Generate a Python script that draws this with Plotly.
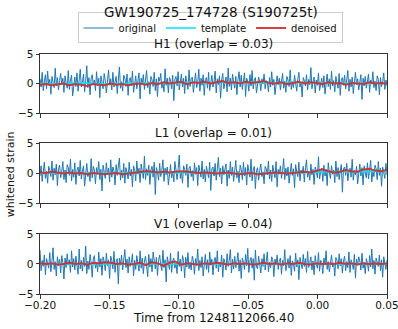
import numpy as np
import plotly.graph_objects as go
from plotly.subplots import make_subplots

# whitened strain (320 samples over the window)
h1_original = [
    0.8, -0.6, 1.9, -1.2, 0.4, 1.5, -0.9, 2.1, -0.3, 0.7, -1.8, 1.2, 0.2, -0.7, 2.6, -0.4, 1.0, -1.1, 0.5, 1.7,
    -0.2, 0.9, -1.5, 1.3, 0.1, -0.8, 2.2, -1.0, 0.6, 1.4, -2.1, 0.3, 1.1, -0.5, 1.8, -1.3, 0.7, 2.4, -0.6, 0.2,
    1.6, -1.4, 0.4, 3.0, -0.7, 1.0, -1.9, 0.8, 1.5, -0.2, 0.6, -1.2, 2.0, -0.4, 0.9, -2.4, 1.3, 0.0, -0.9, 1.7,
    0.5, -1.6, 1.1, 2.3, -0.3, 0.8, -1.1, 1.9, -0.6, 0.4, 1.2, -1.7, 0.7, 2.8, -0.8, 0.3, -1.3, 1.4, 0.9, -0.5,
    1.6, -2.0, 0.6, 1.0, -0.4, 2.1, -1.5, 0.2, 1.3, -0.9, 0.5, 1.8, -2.6, 0.9, -0.1, 1.5, -1.0, 0.4, 2.2, -0.7,
    0.3, -1.8, 1.2, 0.6, -0.5, 1.9, -1.2, 0.8, -2.2, 1.1, 0.4, 1.7, -0.8, 0.2, -1.4, 2.5, -0.3, 0.9, -1.6, 1.0,
    0.6, -0.9, 1.4, -2.9, 0.7, 1.2, -0.4, 2.0, -1.1, 0.3, 1.6, -0.6, 0.9, -1.7, 1.3, 0.1, -1.0, 2.3, -0.5, 0.8,
    1.1, -1.5, 0.5, 1.8, -0.7, 0.2, 2.4, -1.3, 0.9, -0.3, 1.5, -2.0, 0.7, 1.0, -0.8, 1.9, -1.2, 0.4, 1.4, -0.6,
    0.3, 2.1, -1.6, 0.8, -0.2, 1.3, -2.5, 0.6, 1.7, -0.9, 0.4, 1.1, -1.4, 2.6, -0.5, 0.9, -1.1, 1.6, 0.2, -0.8,
    1.2, -1.9, 0.7, 2.0, -0.6, 1.4, -1.0, 0.5, 1.8, -2.2, 0.9, 0.3, -1.3, 1.5, -0.4, 2.2, -0.9, 0.6, 1.0, -1.6,
    -0.4, 1.1, 0.3, -1.2, 0.8, -0.1, 1.6, -0.9, 0.5, 0.2, -1.4, 1.0, -0.6, 2.0, -0.3, 0.7, -1.9, 0.4, 1.3, -0.2,
    0.9, -1.1, 0.1, 1.7, -0.8, 0.4, -1.5, 1.2, 0.6, -0.5, 2.3, -1.0, 0.3, -0.7, 1.4, 0.0, -1.3, 0.8, 1.9, -0.6,
    0.2, -2.3, 1.0, 0.5, -0.4, 1.5, -1.1, 0.7, -0.2, 2.7, -0.9, 0.3, 1.1, -1.6, 0.6, -0.3, 1.8, -1.2, 0.4, 0.9,
    -0.7, 1.3, -1.8, 0.2, 1.6, -0.5, 0.8, -1.0, 2.1, -0.4, 0.5, -1.4, 1.2, 0.1, -0.8, 1.7, -2.0, 0.6, 1.0, -0.3,
    1.4, -0.9, 0.4, 2.2, -1.3, 0.7, -0.6, 1.1, -1.7, 0.3, 1.9, -0.2, 0.8, -1.1, 0.5, 1.5, -2.7, 0.9, -0.4, 1.2,
    -0.8, 0.2, 1.6, -1.5, 0.6, -0.1, 2.0, -0.7, 0.4, -1.2, 1.3, 0.7, -1.9, 1.0, -0.5, 0.3, 1.8, -1.0, 0.6, -0.4,
]
l1_original = [
    -0.5, 1.2, -1.4, 0.6, 1.8, -0.9, 0.3, -1.7, 1.1, 0.4, -0.6, 2.0, -1.2, 0.8, -0.3, 1.5, -2.1, 0.7, 1.3, -0.8,
    0.2, 1.9, -1.1, 0.5, -1.6, 1.4, 0.9, -0.4, 2.3, -1.3, 0.6, -0.7, 1.7, -1.9, 0.4, 1.0, -0.5, 2.1, -1.0, 0.3,
    1.2, -2.2, 0.7, 1.6, -0.6, 0.2, -1.4, 2.4, -0.8, 1.1, 0.5, -1.8, 0.9, -0.2, 1.9, -1.1, 0.6, -3.0, 1.3, 0.4,
    -0.9, 1.7, -0.3, 0.8, -1.5, 2.2, -0.7, 1.0, 0.3, -2.0, 1.4, -0.4, 0.7, 2.5, -1.2, 0.5, -0.8, 1.6, -1.7, 0.9,
    0.1, -1.0, 1.8, -0.5, 0.6, -2.3, 1.2, 0.4, -1.3, 2.0, -0.2, 0.8, -1.6, 1.5, 0.3, -0.9, 2.8, -1.1, 0.7, -0.4,
    1.3, -1.9, 0.5, 1.1, -0.7, 1.8, -3.6, 0.9, 0.2, -1.2, 1.6, -0.6, 0.4, 2.2, -1.4, 0.8, -0.3, 1.0, -2.0, 0.6,
    1.4, -0.8, 0.3, -1.5, 1.9, 0.5, -1.1, 0.7, 3.0, -0.9, 0.2, -1.7, 1.2, 0.6, -0.4, 1.5, -2.4, 0.8, 1.1, -0.6,
    0.4, -1.3, 1.7, -0.2, 0.9, -2.1, 1.3, 0.3, -0.7, 2.0, -1.0, 0.6, -1.5, 1.1, 0.2, -0.8, 1.8, -2.9, 0.7, 1.0,
    -0.5, 1.6, -1.2, 0.4, 2.6, -0.6, 0.8, -1.8, 1.2, -0.3, 0.9, 1.5, -2.2, 0.5, -0.9, 1.9, -0.4, 1.0, -1.4, 0.7,
    2.1, -0.8, 0.3, -1.6, 1.3, 0.6, -1.1, 1.8, -0.5, 0.9, -2.0, 1.4, 0.2, -0.7, 2.3, -1.3, 0.5, 1.1, -2.6, 0.4,
    0.9, -1.2, 0.4, 1.5, -0.6, 0.2, -1.8, 1.1, 0.7, -0.3, 2.0, -1.0, 0.5, -1.4, 1.3, 0.1, -0.8, 1.9, -2.3, 0.6,
    -0.2, 1.2, -0.9, 0.4, 2.4, -1.1, 0.8, -0.5, 1.0, -1.7, 0.3, 1.6, -0.4, 0.7, -2.5, 1.4, 0.2, -0.6, 1.8, -1.3,
    0.5, -0.1, 1.1, -1.5, 0.9, 2.2, -0.7, 0.3, -1.2, 1.5, -0.3, 0.6, -1.9, 1.0, 0.4, -0.8, 2.7, -1.0, 0.2, 0.8,
    -1.4, 1.3, -0.5, 0.6, -2.1, 1.7, 0.1, -0.9, 1.2, -0.2, 0.5, -1.6, 2.0, -0.6, 0.9, -1.1, 0.3, 1.4, -3.2, 0.7,
    1.0, -0.4, 1.6, -1.3, 0.2, 0.8, -0.7, 2.3, -1.2, 0.4, -0.3, 1.1, -1.8, 0.6, 1.5, -0.5, 0.9, -2.0, 1.2, 0.0,
    -0.8, 1.7, -1.0, 0.5, 2.1, -1.5, 0.3, -0.6, 1.3, 0.7, -1.1, 1.9, -0.4, 0.8, -2.2, 1.0, 0.2, -0.9, 1.6, -0.3,
]
v1_original = [
    2.3, -1.1, 0.6, -0.4, 1.5, -1.8, 0.9, 0.2, -0.7, 1.9, -1.3, 0.5, 2.7, -0.9, 0.4, -2.0, 1.2, -0.3, 0.8, -1.5,
    1.4, 0.3, -2.5, 1.0, -0.6, 1.7, -0.2, 0.7, -1.4, 2.2, -0.5, 0.9, -1.0, 1.3, 0.1, -1.7, 2.5, -0.8, 0.6, -1.2,
    1.1, -0.4, 3.0, -1.6, 0.5, -0.9, 1.6, 0.2, -2.2, 0.8, 1.4, -0.7, 0.3, -1.3, 2.0, -0.5, 0.9, -1.9, 1.2, 0.4,
    -1.1, 1.8, -0.3, 0.7, -2.4, 1.3, 0.6, -0.8, 2.1, -1.4, 0.4, 0.9, -3.3, 1.0, -0.2, 1.5, -1.0, 0.5, 2.4, -0.6,
    0.8, -1.5, 1.2, -0.4, 0.3, 1.7, -2.0, 0.6, -0.9, 1.4, 0.2, -1.2, 2.2, -0.7, 1.0, -1.6, 0.5, 1.3, -0.3, -2.1,
    1.6, -0.5, 0.9, -1.3, 2.0, 0.4, -0.8, 1.1, -1.9, 0.6, 1.5, -0.2, -1.1, 2.3, -0.6, 0.7, -3.0, 1.2, 0.3, -0.9,
    1.8, -1.4, 0.5, 1.0, -0.7, 0.2, -1.6, 2.1, -0.4, 0.8, -1.2, 1.4, 0.6, -2.3, 1.1, -0.5, 1.9, -0.8, 0.3, -1.0,
    1.3, 0.5, -1.7, 0.9, -0.3, 2.5, -1.1, 0.6, -0.6, 1.2, -2.0, 0.4, 1.6, -0.9, 0.7, -1.4, 2.0, -0.2, 0.8, -1.8,
    0.5, 1.1, -0.7, 2.2, -1.3, 0.3, -0.5, 1.5, -2.2, 0.9, 0.2, -1.0, 1.7, -0.4, 0.6, 2.4, -1.5, 0.8, -0.8, 1.3,
    -0.6, 0.4, 1.9, -1.2, 0.7, -2.4, 1.0, 0.3, -0.9, 1.6, -0.3, 2.6, -1.4, 0.5, 1.1, -0.7, 0.9, -2.7, 2.3, -0.5,
    -0.8, 1.3, 0.2, -1.5, 0.9, -0.4, 1.7, -1.0, 0.5, 2.0, -1.3, 0.3, -0.6, 1.2, 0.7, -2.1, 0.8, -0.2, 1.5, -0.9,
    0.4, 1.0, -1.7, 0.6, -0.3, 2.4, -1.1, 0.2, 0.9, -0.7, 1.4, -1.9, 0.5, 0.1, -1.2, 1.8, -0.5, 0.7, -2.6, 1.1,
    0.3, -0.8, 1.6, -0.4, 0.9, -1.4, 2.1, -0.6, 0.2, 1.2, -1.0, 0.5, -1.8, 1.4, 0.0, -0.7, 1.9, -1.2, 0.6, 0.3,
    -1.6, 1.0, -0.2, 2.2, -0.9, 0.4, -1.3, 0.8, 1.5, -0.5, 0.2, -2.0, 1.1, 0.6, -0.8, 1.7, -0.3, 0.9, -1.5, 0.5,
    1.3, -1.1, 0.4, -0.6, 2.0, -1.4, 0.7, 0.1, -0.9, 1.6, -2.3, 0.8, -0.2, 1.2, 0.5, -1.0, 1.8, -0.7, 0.3, -1.6,
    0.9, 0.2, -1.2, 1.4, -0.5, 2.5, -0.8, 0.6, -1.7, 1.0, 0.3, -0.4, 1.5, -1.1, 0.7, -2.2, 1.2, 0.4, -0.9, 0.6,
]

# template (26 samples) and denoised output (60 samples)
h1_template = [0.0, -0.1, 0.0, 0.1, 0.0, -0.1, 0.0, 0.1, 0.1, 0.0, 0.1, 0.2, 0.1,
               0.2, 0.1, 0.2, 0.1, 0.2, 0.2, 0.1, 0.1, 0.0, 0.1, 0.0, 0.0, 0.0]
l1_template = [0.0, 0.0, -0.1, 0.0, -0.1, -0.1, 0.0, 0.1, 0.1, 0.1, 0.0, 0.1, 0.0,
               -0.1, -0.1, 0.0, -0.1, 0.0, 0.0, 0.1, 0.1, 0.2, 0.3, 0.2, 0.3, 0.2]
v1_template = [0.0, 0.0, 0.1, 0.0, 0.0, 0.1, 0.0, 0.1, 0.0, 0.0, 0.1, 0.0, 0.0,
               0.0, 0.1, 0.0, 0.0, 0.0, 0.1, 0.0, 0.0, 0.1, 0.0, 0.0, 0.1, 0.0]

h1_denoised = [
    -0.2, -0.1, -0.3, -0.2, 0.0, -0.3, -0.1, -0.2, -0.4, -0.1, -0.2, -0.3, 0.0, -0.2, -0.1, -0.3, -0.1, 0.0, -0.2, 0.1,
    -0.1, 0.2, 0.0, 0.1, 0.3, -0.1, 0.2, 0.1, 0.3, 0.0, 0.2, 0.4, 0.1, 0.2, 0.0, 0.3, 0.1, 0.2, 0.4, 0.1,
    0.0, 0.2, -0.1, 0.1, 0.3, 0.0, 0.2, 0.1, -0.1, 0.2, 0.0, 0.1, -0.2, 0.1, 0.0, -0.1, 0.2, 0.0, 0.1, 0.0,
]
l1_denoised = [
    0.1, 0.0, 0.2, 0.0, -0.1, 0.1, -0.1, 0.0, -0.2, 0.0, -0.1, -0.2, -0.1, 0.0, -0.2, -0.1, 0.0, 0.2, 0.3, 0.2,
    0.1, 0.2, 0.1, 0.2, 0.3, 0.2, 0.1, 0.0, 0.1, 0.0, -0.1, 0.0, 0.1, -0.1, -0.2, -0.1, 0.0, -0.2, -0.1, 0.0,
    0.1, 0.0, -0.1, 0.0, 0.1, 0.2, 0.1, 0.4, 0.6, 0.3, 0.1, 0.2, 0.5, 0.3, 0.2, 0.6, 0.7, 0.4, 0.3, 0.5,
]
v1_denoised = [
    0.1, 0.0, 0.1, -0.1, 0.0, 0.2, 0.0, 0.1, -0.1, 0.2, 0.1, 0.3, 0.2, 0.0, 0.1, -0.1, 0.0, 0.2, -0.2, 0.3,
    0.1, -0.3, 0.2, 0.4, -0.1, 0.1, 0.0, -0.1, 0.1, 0.0, 0.2, 0.0, -0.1, 0.1, 0.0, 0.1, -0.1, 0.0, 0.2, 0.0,
    0.1, -0.1, 0.1, 0.0, 0.2, 0.0, -0.1, 0.1, 0.0, 0.1, 0.0, 0.2, 0.0, 0.1, -0.1, 0.1, 0.0, 0.1, 0.0, 0.1,
]

detectors = ["H1", "L1", "V1"]
overlaps = [0.03, 0.01, 0.04]
originals = [h1_original, l1_original, v1_original]
templates = [h1_template, l1_template, v1_template]
denoised = [h1_denoised, l1_denoised, v1_denoised]
t_start, t_end = -0.20, 0.05

font = "DejaVu Sans"
fig = make_subplots(rows=3, cols=1)

for i in range(3):
    row = i + 1
    for ys, name, color, width in [(originals[i], "original", "#1f77b4", 1),
                                   (templates[i], "template", "#00e5ff", 1.5),
                                   (denoised[i], "denoised", "rgba(214,39,40,0.9)", 2)]:
        t = np.linspace(t_start, t_end, len(ys))
        fig.add_trace(go.Scatter(x=t, y=ys, mode="lines", name=name,
                                 line=dict(color=color, width=width),
                                 showlegend=(i == 0)), row=row, col=1)

# paper spans pixel rows 0..294 (top margin 0), so everything sits inside it
domains = [[0.6156, 0.8163], [0.3095, 0.5136], [0.0, 0.2041]]
title_y = [0.8503, 0.5476, 0.2381]
for i in range(3):
    ax = "" if i == 0 else str(i + 1)
    fig.layout["yaxis" + ax].update(
        domain=domains[i], range=[-5, 5], tickvals=[-5, 0, 5], automargin=False,
        showline=True, mirror=True, linecolor="#333", linewidth=1,
        ticks="outside", ticklen=3.5, tickcolor="#333", showgrid=False, zeroline=False,
        tickfont=dict(size=10.5, color="#111"))
    fig.layout["xaxis" + ax].update(
        range=[t_start, t_end], tickvals=[-0.2, -0.15, -0.1, -0.05, 0.0, 0.05],
        tickformat=".2f", showticklabels=(i == 2), automargin=False,
        ticklabeloverflow="allow", ticklabelstandoff=-2,
        showline=True, mirror=True, linecolor="#333", linewidth=1,
        ticks="outside", ticklen=3.5, tickcolor="#333", showgrid=False, zeroline=False,
        tickfont=dict(size=10.5, color="#111"))
    fig.add_annotation(text=f"{detectors[i]} (overlap = {overlaps[i]:.2f})",
                       x=0.5, y=title_y[i], xref="paper", yref="paper",
                       xanchor="center", yanchor="middle",
                       showarrow=False, font=dict(size=12, color="#111"))

fig.add_annotation(text="whitened strain", x=-0.086, y=0.408, xref="paper", yref="paper",
                   xanchor="center", yanchor="middle",
                   textangle=-90, showarrow=False, font=dict(size=11, color="#111"))
fig.add_annotation(text="Time from 1248112066.40", x=0.5, y=-0.0816, xref="paper", yref="paper",
                   xanchor="center", yanchor="middle",
                   showarrow=False, font=dict(size=12, color="#111"))

fig.update_layout(
    width=398, height=329,
    margin=dict(l=40, r=11, t=0, b=35),
    paper_bgcolor="white", plot_bgcolor="white",
    font=dict(family=font, color="#111"),
    title=dict(text="GW190725_174728 (S190725t)", x=0.53, xanchor="center",
               y=0.9635, yanchor="middle", font=dict(size=13.5)),
    legend=dict(orientation="h", x=0.49, xanchor="center", y=0.9048, yanchor="middle",
                bordercolor="#ccc", borderwidth=1, font=dict(size=10),
                itemwidth=30, tracegroupgap=0),
)

# the page body has a default 8px margin; drop it so the figure sits at (0, 0)
fig.write_html("out.html", config={"displayModeBar": False},
               post_script="document.body.style.margin = '0';")
